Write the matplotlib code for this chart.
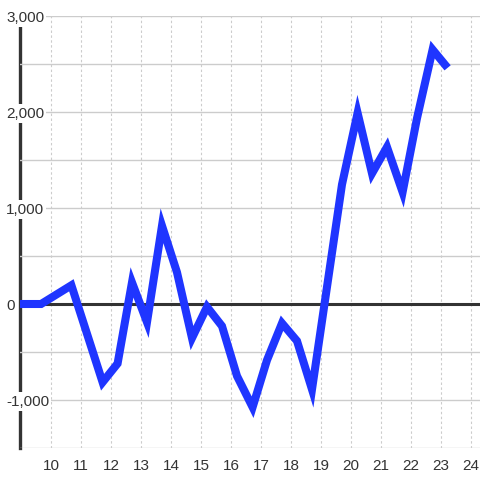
import matplotlib
matplotlib.use("Agg")
import matplotlib.pyplot as plt
from matplotlib.ticker import FixedLocator, FuncFormatter, NullLocator

plt.rcParams['font.family'] = ['Liberation Sans', 'DejaVu Sans']

x_vals = [8.9, 9.67, 10.68, 11.72, 12.22, 12.7, 13.2, 13.7, 14.2, 14.7, 15.2, 15.7,
          16.2, 16.72, 17.2, 17.7, 18.2, 18.7, 19.7, 20.22, 20.7, 21.2, 21.72,
          22.2, 22.72, 23.22]
y_vals = [0, 0, 195, -815, -620, 225, -190, 815, 330, -355, -30, -230,
          -750, -1075, -585, -200, -385, -890, 1245, 1990, 1360, 1635, 1165,
          1935, 2650, 2460]
x_ticks = list(range(10, 25))
y_major = [-1000, 0, 1000, 2000, 3000]
y_minor = [-1500, -500, 500, 1500, 2500]

fig = plt.figure(figsize=(4.8, 4.8), dpi=100)
ax = fig.add_axes([20/480, 32/480, 460/480, 432/480])
ax.set_xlim(8.967, 24.3)
ax.set_ylim(-1500, 3000)
ax.set_axisbelow(True)

for s in ['top', 'right', 'bottom']:
    ax.spines[s].set_visible(False)
ax.spines['left'].set_color('#333333')
ax.spines['left'].set_linewidth(2.4)
ax.spines['left'].set_bounds(-1500, 2915)
ax.spines['left'].set_zorder(0.4)

ax.xaxis.set_major_locator(FixedLocator(x_ticks))
ax.xaxis.set_minor_locator(NullLocator())
ax.yaxis.set_major_locator(FixedLocator(y_major))
ax.yaxis.set_minor_locator(FixedLocator(y_minor))
ax.yaxis.set_major_formatter(FuncFormatter(lambda v, p: f"{v:,.0f}"))

ax.grid(axis='x', which='major', color='#cccccc', linestyle=(0, (2.2, 2.2)), linewidth=0.8)
ax.grid(axis='y', which='both', color='#cccccc', linestyle='-', linewidth=1.0)

ax.tick_params(axis='x', length=0, pad=8, labelsize=11, labelcolor='#333333')
ax.tick_params(axis='y', which='both', length=0)
ax.tick_params(axis='y', which='major', pad=10, labelsize=11, labelcolor='#333333')
for lab in ax.get_yticklabels():
    lab.set_horizontalalignment('left')
    lab.set_bbox(dict(facecolor='white', edgecolor='none', pad=1.5))

ax.axhline(0, color='#333333', linewidth=2.2, zorder=1.5)
ax.plot(x_vals, y_vals, color='#1f35ff', linewidth=5.8, solid_joinstyle='miter',
        solid_capstyle='butt', zorder=2)

fig.savefig('out.png', dpi=100, facecolor='white')
